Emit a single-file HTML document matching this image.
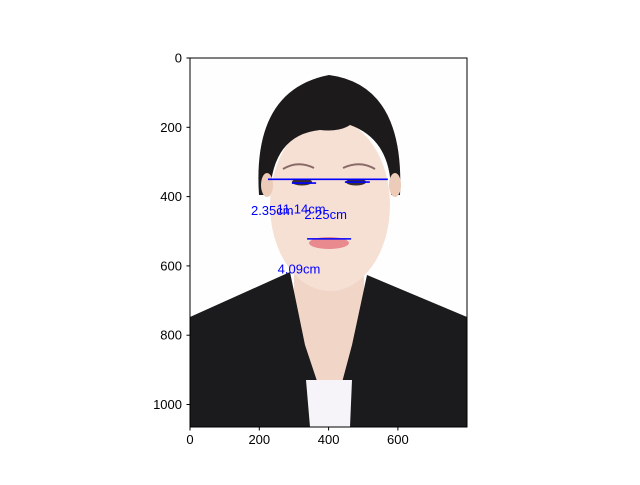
<!DOCTYPE html>
<html><head><meta charset="utf-8"><style>
body{margin:0;background:#fff;}
svg text{font-family:"Liberation Sans","DejaVu Sans",sans-serif;}
</style></head><body>
<svg width="640" height="480" viewBox="0 0 640 480">
<rect width="640" height="480" fill="#fff"/>
<g id="photo">
  <rect x="190" y="58" width="277" height="369" fill="#fefefe"/>
  <rect x="294" y="250" width="70" height="135" fill="#f1d6c8"/>
  <ellipse cx="330" cy="205" rx="60" ry="86" fill="#f6e0d4"/>
  <path d="M259 195 Q252 90 329 75 Q405 85 400 195 L391 195 Q392 140 350 125 Q340 132 320 130 Q272 135 270 195 Z" fill="#1c1a1a"/>
  <ellipse cx="267" cy="185" rx="6" ry="12" fill="#eccbb8"/>
  <ellipse cx="395" cy="185" rx="6" ry="12" fill="#eccbb8"/>
  <path d="M283 169 Q298 160 314 168" stroke="#8a6a66" stroke-width="2" fill="none"/>
  <path d="M343 168 Q360 160 375 169" stroke="#8a6a66" stroke-width="2" fill="none"/>
  <ellipse cx="302" cy="182" rx="10" ry="3.5" fill="#3a2e30"/>
  <ellipse cx="356" cy="182" rx="10" ry="3.5" fill="#3a2e30"/>
  <ellipse cx="329" cy="243" rx="20" ry="6" fill="#e88a8e"/>
  <path d="M190 317 L290 272 L305 345 L320 390 L340 390 L352 345 L367 275 L467 317 L467 427 L190 427 Z" fill="#1b1a1c"/>
  <path d="M306 380 L352 380 L350 427 L310 427 Z" fill="#f6f4f8"/>
</g>
<g id="marks"></g>
<rect x="190" y="58" width="277" height="369" fill="none" stroke="#000" stroke-width="1"/>
<g id="xt"></g><g id="yt"></g>
</svg>
<script>
const xTicks=[0,200,400,600];
const yTicks=[0,200,400,600,800,1000];
const segX1=[225,294,447,338];
const segX2=[571,364,519,465];
const segY=[350,361,358,522];
const labels=["2.35cm","11.14cm","2.25cm","4.09cm"];
const labelX=[176,250,330,253];
const labelY=[438,434,450,608];
const ns="http://www.w3.org/2000/svg";
const X=v=>190+v*0.3465, Y=v=>58+v*0.3465;
const marks=document.getElementById('marks');
function mk(t,a,p){const e=document.createElementNS(ns,t);for(const k in a)e.setAttribute(k,a[k]);p.appendChild(e);return e;}
segX1.forEach((x1,i)=>{
  const l=mk('line',{x1:X(x1),x2:X(segX2[i]),y1:Y(segY[i]),y2:Y(segY[i]),stroke:'#0000ff','stroke-width':1.6},marks);
  
  
});
labels.forEach((s,i)=>{
  const t=mk('text',{x:X(labelX[i]),y:Y(labelY[i])+5,fill:'#0000ff','font-size':13},marks);
  t.textContent=s;
  
  
});
const xt=document.getElementById('xt'),yt=document.getElementById('yt');
xTicks.forEach(v=>{
  const l=mk('line',{x1:X(v),x2:X(v),y1:427,y2:430.5,stroke:'#000'},xt);
  
  
  const t=mk('text',{x:X(v),y:444,'text-anchor':'middle','font-size':13},xt);
  t.textContent=v;
  
  
});
yTicks.forEach(v=>{
  const l=mk('line',{x1:186.5,x2:190,y1:Y(v),y2:Y(v),stroke:'#000'},yt);
  
  
  const t=mk('text',{x:182,y:Y(v)+4.5,'text-anchor':'end','font-size':13},yt);
  t.textContent=v;
  
  
});
</script>
</body></html>
